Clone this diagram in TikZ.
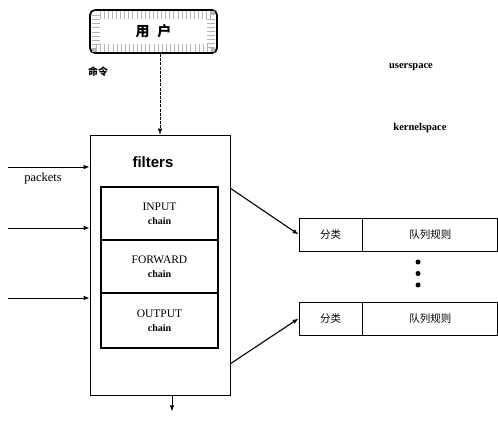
\documentclass[tikz,border=0pt]{standalone}
\usepackage{fontspec}
\setmainfont{Liberation Serif}
\newfontfamily\cjk{Noto Sans CJK SC}
\newfontfamily\sansf{Liberation Sans}
\usetikzlibrary{arrows.meta,calc}
\begin{document}
\begin{tikzpicture}[x=1pt,y=-1pt,
  box/.style={draw, line width=0.8pt, inner sep=0pt, align=center},
  chainbox/.style={box, line width=1.1pt, minimum width=117pt},
  arr/.style={-{Latex[length=6pt,width=4.5pt]}, line width=0.8pt},
  qcls/.style={box, minimum width=63pt, minimum height=33pt, font=\cjk\fontsize{10.5}{12}\selectfont},
  qrule/.style={box, minimum width=135pt, minimum height=33pt, font=\cjk\fontsize{10.5}{12}\selectfont},
  dot/.style={circle, fill=black, inner sep=0pt, minimum size=5pt}]
\useasboundingbox (0,0) rectangle (498,426);
% user box
\node[draw, line width=1.8pt, rounded corners=5pt, minimum width=127pt, minimum height=43pt,
      inner sep=0pt, font=\cjk\bfseries\fontsize{14}{16}\selectfont] (user) at (153.5,31.5) {用\hspace{8pt}户};
\draw[gray!60, line width=8pt, dash pattern=on 0.6pt off 3.5pt]
  ($(user.north west)+(7,6)$) rectangle ($(user.south east)+(-7,-6)$);
\node[font=\cjk\bfseries\fontsize{10}{12}\selectfont] (cmd) at (98,72) {命令};
% filters
\node[box, minimum width=140pt, minimum height=260pt] (filters) at (160,265) {};
\node[font=\sansf\bfseries\fontsize{15}{17}\selectfont] (ftitle) at (153,162) {filters};
\node[chainbox, minimum height=53pt] (input) at (159.5,213.5)
  {\fontsize{11.5}{13}\selectfont INPUT\\[2pt]\bfseries\fontsize{10}{12}\selectfont chain};
\node[chainbox, minimum height=53pt] (forward) at (159.5,266.5)
  {\fontsize{11.5}{13}\selectfont FORWARD\\[2pt]\bfseries\fontsize{10}{12}\selectfont chain};
\node[chainbox, minimum height=55pt] (output) at (159.5,320.5)
  {\fontsize{11.5}{13}\selectfont OUTPUT\\[2pt]\bfseries\fontsize{10}{12}\selectfont chain};
% command arrow
\draw[arr, dash pattern=on 3pt off 1.2pt, line width=0.6pt] (user.south -| 160,0) coordinate (c0) -- (c0 |- filters.north);
% packets
\coordinate (p1) at (8,167);
\coordinate (p2) at (8,228);
\coordinate (p3) at (8,298);
\draw[arr] (p1) -- (p1 -| filters.west);
\draw[arr] (p2) -- (p2 -| filters.west);
\draw[arr] (p3) -- (p3 -| filters.west);
\node[font=\fontsize{12.5}{14}\selectfont] (pk) at (43,178) {packets};
% bottom arrow
\coordinate (b0) at ($(filters.south)+(12,0)$);
\draw[arr] (b0) -- ++(0,16) coordinate (b1);
% queues
\node[qcls] (cls1) at (330.5,234.5) {分类};
\node[qrule, anchor=west] (rule1) at (cls1.east) {队列规则};
\node[qcls] (cls2) at (330.5,318.5) {分类};
\node[qrule, anchor=west] (rule2) at (cls2.east) {队列规则};
\node[dot] (d1) at (418,262) {};
\node[dot] (d2) at (418,273.5) {};
\node[dot] (d3) at (418,285) {};
\coordinate (o1) at (230,188);
\coordinate (o2) at (230,364);
\draw[arr, line width=1.1pt] (o1) -- (cls1.west);
\draw[arr, line width=1.1pt] (o2) -- (cls2.west);
% space labels
\node[font=\bfseries\fontsize{10.5}{12}\selectfont] (us) at (411,67) {userspace};
\node[font=\bfseries\fontsize{10.5}{12}\selectfont] (ks) at (420,128) {kernelspace};
\end{tikzpicture}
\end{document}
